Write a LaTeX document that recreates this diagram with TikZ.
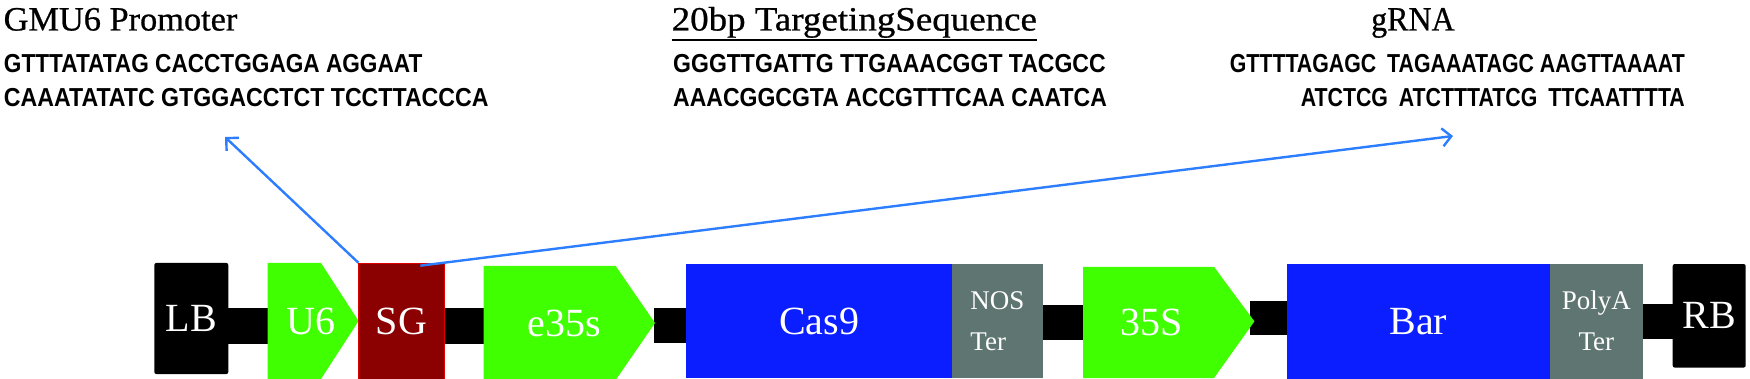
\documentclass[tikz,border=0pt]{standalone}
\usepackage{fontspec}
\setmainfont{Liberation Serif}
\newfontfamily\seqfont{Liberation Sans}
\newfontfamily\ttlfont[FakeBold=0.7]{Liberation Serif}
\usetikzlibrary{arrows.meta}
\definecolor{promgreen}{RGB}{64,255,0}
\definecolor{sgred}{RGB}{139,0,0}
\definecolor{genblue}{RGB}{10,30,255}
\definecolor{tergray}{RGB}{95,117,113}
\definecolor{linkblue}{RGB}{45,125,255}
\newcommand{\sq}[2][0.87]{\scalebox{#1}[1]{#2}}
\begin{document}
\begin{tikzpicture}[x=1pt,y=-1pt,
  lbl/.style={text=white,inner sep=0pt,font=\fontsize{40}{40}\selectfont},
  smalllbl/.style={text=white,font=\fontsize{27}{41}\selectfont},
  border/.style={rectangle,fill=black,inner sep=0pt,rounded corners=2pt,lbl},
  gene/.style={rectangle,fill=genblue,inner sep=0pt,lbl},
  term/.style={rectangle,fill=tergray,inner sep=0pt,smalllbl},
  title/.style={inner sep=0pt,font=\ttlfont\fontsize{34}{34}\selectfont},
  seqtxt/.style={inner sep=0pt,font=\seqfont\bfseries\fontsize{26}{26}\selectfont},
  link/.style={draw=linkblue,line width=2.4pt,-{Straight Barb[length=9pt,width=18pt,line width=2.4pt]}}]
\useasboundingbox (0,0) rectangle (1750,379);

% connector bars
\fill (228,308) rectangle (268,343.5);
\fill (444,308) rectangle (484,343.5);
\fill (654,308) rectangle (687,342.5);
\fill (1042,305) rectangle (1083,340);
\fill (1250,301) rectangle (1287,335);
\fill (1642,304) rectangle (1673,339);

% promoter arrows
\fill[promgreen] (267.5,263) -- (321,263) -- (358.6,321) -- (321,379) -- (267.5,379) -- cycle;
\fill[promgreen] (483.6,266) -- (615.7,266) -- (655,323) -- (615.7,380) -- (483.6,380) -- cycle;
\fill[promgreen] (1083,266.8) -- (1214,266.8) -- (1254.4,321.4) -- (1214,378) -- (1083,378) -- cycle;

% elements
\node[border,minimum width=74pt,minimum height=111pt] (LB) at (191.3,318.5) {LB};
\node[lbl] (U6) at (311,321) {U6};
\node[rectangle,fill=sgred,draw=red!70!sgred,line width=0.6pt,inner sep=0pt,lbl,minimum width=85.7pt,minimum height=116pt] (SG) at (401.5,321) {SG};
\node[lbl] (E35) at (564,323) {e35s};
\node[gene,minimum width=265.4pt,minimum height=113.7pt] (Cas) at (819.1,321.2) {Cas9};
\node[term,minimum width=91.1pt,minimum height=113.7pt,align=left] (NOS) at (997.4,321.2) {NOS\\Ter};
\node[lbl] (S35) at (1152,322) {35S};
\node[gene,minimum width=263.1pt,minimum height=114.6pt] (Bar) at (1418.2,321.2) {Bar};
\node[term,minimum width=93.3pt,minimum height=114.6pt,align=center] (PA) at (1596.3,321.2) {PolyA\\Ter};
\node[border,minimum width=73pt,minimum height=103.5pt] (RB) at (1709.2,315.8) {RB};

% titles
\node[title,anchor=base west] (T1) at (3.5,30.5) {\scalebox{1.01}[1]{GMU6 Promoter}};
\node[title,anchor=base west] (T2) at (671.5,30.5) {\scalebox{1.087}[1]{20bp TargetingSequence}};
\node[title,anchor=base west] (T3) at (1371,30.5) {\scalebox{0.94}[1]{gRNA}};
\draw[line width=2pt] ([yshift=-10pt]T2.base west) -- ([yshift=-10pt]T2.base east);

% sequences
\node[seqtxt,anchor=base west] (S1a) at (3.8,73) {\sq{GTTTATATAG CACCTGGAGA AGGAAT}};
\node[seqtxt,anchor=base west] (S1b) at (3.8,107) {\sq[0.89]{CAAATATATC GTGGACCTCT TCCTTACCCA}};
\node[seqtxt,anchor=base west] (S2a) at (673,73) {\sq[0.885]{GGGTTGATTG TTGAAACGGT TACGCC}};
\node[seqtxt,anchor=base west] (S2b) at (673,107) {\sq[0.885]{AAACGGCGTA ACCGTTTCAA CAATCA}};
\node[seqtxt,anchor=base east] (S3a) at (1685,73) {\sq[0.82]{GTTTTAGAGC\hspace{6pt} TAGAAATAGC AAGTTAAAAT}};
\node[seqtxt,anchor=base east] (S3b) at (1685,107) {\sq[0.82]{ATCTCG\hspace{6pt} ATCTTTATCG\hspace{6pt} TTCAATTTTA}};

% links
\coordinate (gmuEnd) at (225,137);
\coordinate (grnaEnd) at (1453,136);
\draw[link] (SG.north west) -- (gmuEnd);
\draw[link] ([xshift=62pt,yshift=-3pt]SG.north west) -- (grnaEnd);
\end{tikzpicture}
\end{document}
